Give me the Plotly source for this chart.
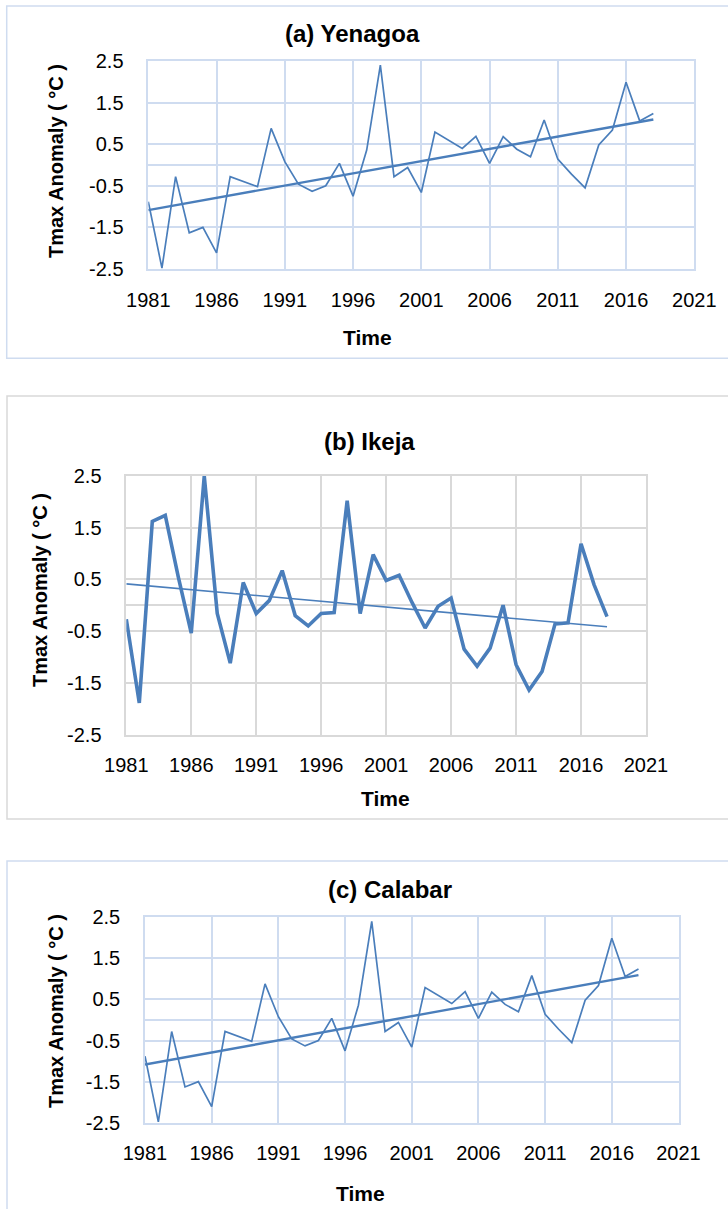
import numpy as np
import plotly.graph_objects as go

W, H = 728, 1209

# ---- data -------------------------------------------------------------
years = list(range(1981, 2019))

yenagoa = [-0.88, -2.48, -0.28, -1.63, -1.50, -2.11, -0.28, -0.40, -0.52, 0.88,
           0.08, -0.46, -0.63, -0.50, 0.04, -0.75, 0.36, 2.40, -0.28, -0.06,
           -0.66, 0.79, 0.60, 0.40, 0.69, 0.04, 0.68, 0.38, 0.20, 1.08,
           0.14, -0.22, -0.55, 0.48, 0.84, 1.99, 1.06, 1.24]

ikeja = [-0.27, -1.89, 1.62, 1.74, 0.55, -0.54, 2.50, -0.16, -1.12, 0.44,
         -0.16, 0.09, 0.67, -0.20, -0.40, -0.16, -0.14, 2.02, -0.16, 0.98,
         0.48, 0.58, 0.05, -0.44, -0.02, 0.14, -0.85, -1.18, -0.83, 0.00,
         -1.15, -1.64, -1.28, -0.36, -0.34, 1.19, 0.40, -0.22]

calabar = [-0.88, -2.48, -0.28, -1.63, -1.50, -2.11, -0.28, -0.40, -0.52, 0.88,
           0.08, -0.46, -0.63, -0.50, 0.04, -0.75, 0.36, 2.40, -0.28, -0.06,
           -0.66, 0.79, 0.60, 0.40, 0.69, 0.04, 0.68, 0.38, 0.20, 1.08,
           0.14, -0.22, -0.55, 0.48, 0.84, 1.99, 1.06, 1.24]

x_ticks = [1981, 1986, 1991, 1996, 2001, 2006, 2011, 2016, 2021]
y_ticks = [2.5, 1.5, 0.5, -0.5, -1.5, -2.5]
y_tick_text = ["2.5", "1.5", "0.5", "-0.5", "-1.5", "-2.5"]

titles = ["(a) Yenagoa", "(b) Ikeja", "(c) Calabar"]
y_title = "Tmax Anomaly ( °C )"
x_title = "Time"

# ---- styling / layout (pixel positions on the page) --------------------
FONT = "Arial, 'Liberation Sans', sans-serif"
LINE = "#4a7ebb"
BLUE_GRID = "#cfdcf0"
GREY_GRID = "#d9d9d9"

panels = [
    dict(values=yenagoa, plot=(148.3, 694.3, 61, 269), grid=BLUE_GRID,
         data_w=1.7, trend_w=2.4, box=(6.7, 6, 358.3), title=(352, 33),
         ytitle=(56, 161), xtitle=(367, 338), frame=BLUE_GRID),
    dict(values=ikeja, plot=(126.3, 646, 476, 734.5), grid=GREY_GRID,
         data_w=3.6, trend_w=1.6, box=(7, 396, 819), title=(369, 441),
         ytitle=(40, 590), xtitle=(385, 798), frame=GREY_GRID),
    dict(values=calabar, plot=(145, 678.5, 917.3, 1122.7), grid=BLUE_GRID,
         data_w=1.7, trend_w=2.4, box=(7, 861, 1215), title=(390, 890),
         ytitle=(56, 1011), xtitle=(360, 1193), frame=BLUE_GRID),
]


def px_x(x):
    return x / W


def px_y(y):
    return 1 - y / H


fig = go.Figure()
annotations = []
shapes = []
yrs = np.array(years, dtype=float)

for i, p in enumerate(panels, start=1):
    xa = "x" if i == 1 else f"x{i}"
    ya = "y" if i == 1 else f"y{i}"
    vals = np.array(p["values"], dtype=float)

    # anomaly series
    fig.add_trace(go.Scatter(x=years, y=p["values"], mode="lines",
                             line=dict(color=LINE, width=p["data_w"]),
                             xaxis=xa, yaxis=ya, showlegend=False))
    # least-squares linear trend
    slope, intercept = np.polyfit(yrs, vals, 1)
    tx = [years[0], years[-1]]
    ty = [slope * t + intercept for t in tx]
    fig.add_trace(go.Scatter(x=tx, y=ty, mode="lines",
                             line=dict(color=LINE, width=p["trend_w"]),
                             xaxis=xa, yaxis=ya, showlegend=False))

    x0, x1, yt, yb = p["plot"]
    axis_common = dict(showgrid=True, gridcolor=p["grid"], gridwidth=1.5,
                       showline=True, mirror=True, linecolor=p["grid"],
                       linewidth=1.5, ticks="outside", automargin=False,
                       tickcolor="rgba(0,0,0,0)",
                       tickfont=dict(family=FONT, size=20, color="#000000"))
    fig.layout[f"xaxis{i if i > 1 else ''}"] = dict(
        axis_common, domain=[px_x(x0), px_x(x1)], range=[1981, 2021],
        tickvals=x_ticks, ticktext=[str(t) for t in x_ticks], ticklen=12,
        zeroline=False, anchor=ya)
    fig.layout[f"yaxis{i if i > 1 else ''}"] = dict(
        axis_common, domain=[px_y(yb), px_y(yt)], range=[-2.5, 2.5],
        tickvals=y_ticks, ticktext=y_tick_text, ticklen=19,
        zeroline=True, zerolinecolor=p["grid"], zerolinewidth=1.5,
        anchor=xa)

    # chart frame
    bx, btop, bbot = p["box"]
    shapes.append(dict(type="rect", xref="paper", yref="paper",
                       x0=px_x(bx), x1=1.05, y0=px_y(bbot), y1=px_y(btop),
                       line=dict(color=p["frame"], width=1.5),
                       fillcolor="rgba(0,0,0,0)", layer="below"))

    annotations.append(dict(text=f"<b>{titles[i - 1]}</b>", xref="paper",
                            yref="paper",
                            x=px_x(p["title"][0]), y=px_y(p["title"][1]),
                            xanchor="center", yanchor="middle", showarrow=False,
                            font=dict(family=FONT, size=24, color="#000000")))
    annotations.append(dict(text=f"<b>{y_title}</b>", xref="paper", yref="paper",
                            x=px_x(p["ytitle"][0]), y=px_y(p["ytitle"][1]),
                            xanchor="center", yanchor="middle", textangle=-90,
                            showarrow=False,
                            font=dict(family=FONT, size=20, color="#000000")))
    annotations.append(dict(text=f"<b>{x_title}</b>", xref="paper", yref="paper",
                            x=px_x(p["xtitle"][0]), y=px_y(p["xtitle"][1]),
                            xanchor="center", yanchor="middle", showarrow=False,
                            font=dict(family=FONT, size=21, color="#000000")))

fig.update_layout(width=W, height=H, margin=dict(l=0, r=0, t=0, b=0),
                  paper_bgcolor="white", plot_bgcolor="white",
                  annotations=annotations, shapes=shapes,
                  font=dict(family=FONT))

fig.write_html("out.html")
